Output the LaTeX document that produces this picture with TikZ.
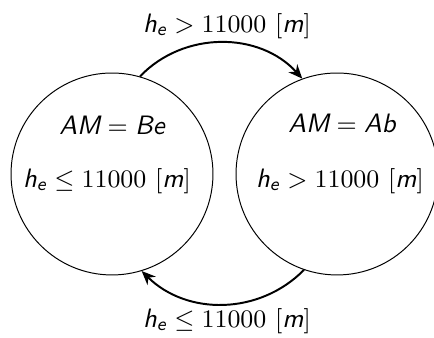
\documentclass[tikz,border=0pt]{standalone}
\usepackage{amsmath}
\usetikzlibrary{arrows.meta}
\newcommand{\mi}[1]{\textsf{\itshape #1}}
\begin{document}
\begin{tikzpicture}[x=0.357pt,y=0.357pt,
  state/.style={draw,circle,line width=0.35pt,minimum size=72.1pt,inner sep=0pt},
  trans/.style={line width=0.7pt,-{Stealth[length=5pt,width=4.2pt]}},
  lbl/.style={anchor=base,inner sep=0pt,font=\fontsize{9.5}{11.5}\selectfont}]
\useasboundingbox (0,0) rectangle (434,338);
\node[state] (L) at (112,164) {};
\node[state] (R) at (337,164) {};
\node[lbl] (L1) at (112,203) {$\mi{AM} = \mi{Be}$};
\node[lbl] (L2) at (107,150) {$\mi{h}_{\mi{e}} \leq 11000\ [\mi{m}]$};
\node[lbl] (R1) at (342,205) {$\mi{AM} = \mi{Ab}$};
\node[lbl] (R2) at (340,150) {$\mi{h}_{\mi{e}} > 11000\ [\mi{m}]$};
\node[lbl] (T) at (227,305) {$\mi{h}_{\mi{e}} > 11000\ [\mi{m}]$};
\node[lbl] (B) at (227,10) {$\mi{h}_{\mi{e}} \leq 11000\ [\mi{m}]$};
\draw[trans] (L.74) to[bend left=47] (R.110);
\draw[trans] (R.251) to[bend left=45] (L.287);
\end{tikzpicture}
\end{document}
